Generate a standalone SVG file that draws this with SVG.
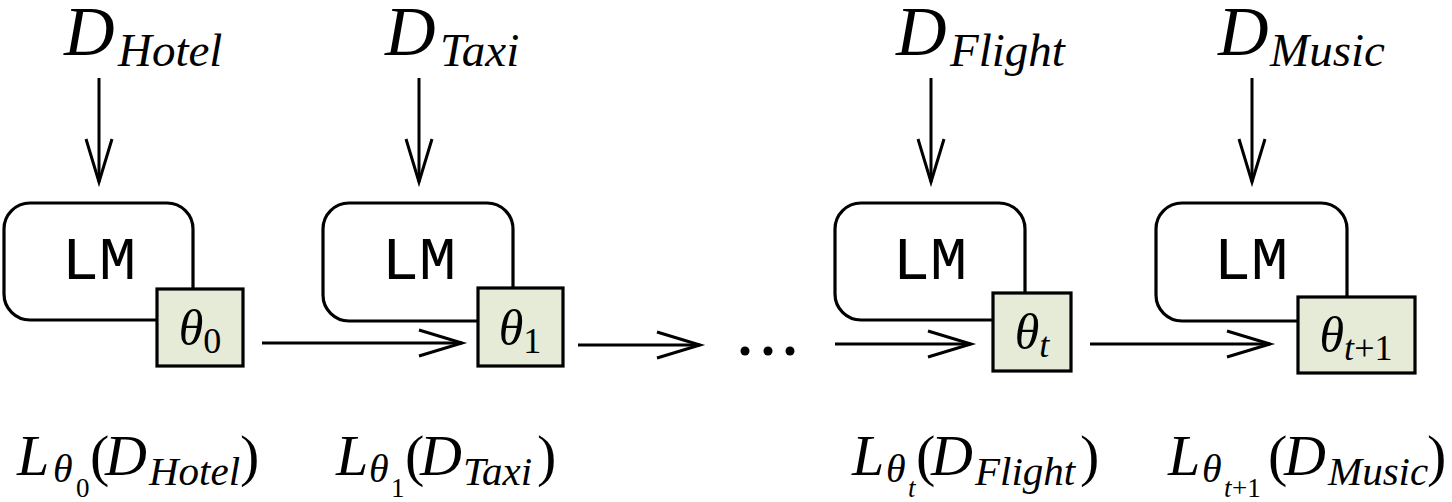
<svg xmlns="http://www.w3.org/2000/svg" width="1452" height="502" viewBox="0 0 1452 502">
<style>
.lm{fill:#fff;stroke:#000;stroke-width:3.2}
.th{fill:#e5ebd6;stroke:#000;stroke-width:3.2}
.lmt{font-family:"Liberation Mono",monospace;font-size:62px;fill:#000}
.serif{font-family:"Liberation Serif","Times New Roman",serif;fill:#000}
.it{font-style:italic}
.big{font-size:70px}
.sub{font-size:47px}
.thl{font-size:50px}
.ths{font-size:36px}
.bl{font-size:58px}
.bs{font-size:40px}
.bss{font-size:27px}
.bds{font-size:41px}
.con line{stroke:#000;stroke-width:3;marker-end:url(#arr)}
</style>
<defs>
<marker id="arr" markerUnits="userSpaceOnUse" orient="auto" refX="0" refY="0" markerWidth="1" markerHeight="1" overflow="visible">
<path d="M-43,-13 L0,0 L-43,13" fill="none" stroke="#000" stroke-width="3"/>
</marker>
</defs>
<rect width="1452" height="502" fill="#fff"/>

<g id="label-d-hotel" class="serif it"><text x="64" y="55" class="big">D<tspan x="118" y="66" class="sub">Hotel</tspan></text></g>
<g id="label-d-taxi" class="serif it"><text x="385" y="55" class="big">D<tspan x="440" y="66" class="sub">Taxi</tspan></text></g>
<g id="label-d-flight" class="serif it"><text x="896" y="55" class="big">D<tspan x="950" y="66" class="sub">Flight</tspan></text></g>
<g id="label-d-music" class="serif it"><text x="1218" y="55" class="big">D<tspan x="1270" y="66" class="sub">Music</tspan></text></g>

<g id="node-lm0">
<rect class="lm" x="4" y="203" width="189" height="117" rx="26"/>
<text class="lmt" x="99" y="279" text-anchor="middle">LM</text>
<rect class="th" x="157" y="289" width="86" height="77"/>
<text class="serif" x="200" y="345" text-anchor="middle"><tspan class="thl it">θ</tspan><tspan class="ths" dy="8">0</tspan></text>
</g>
<g id="node-lm1">
<rect class="lm" x="323" y="203" width="190" height="118" rx="26"/>
<text class="lmt" x="419" y="279" text-anchor="middle">LM</text>
<rect class="th" x="478" y="288" width="85" height="78"/>
<text class="serif" x="520" y="345" text-anchor="middle"><tspan class="thl it">θ</tspan><tspan class="ths" dy="8">1</tspan></text>
</g>
<g id="node-dots">
<circle cx="745" cy="351" r="4.5"/><circle cx="768" cy="351" r="4.5"/><circle cx="790" cy="351" r="4.5"/>
</g>
<g id="node-lmt">
<rect class="lm" x="835" y="203" width="190" height="117" rx="26"/>
<text class="lmt" x="930" y="279" text-anchor="middle">LM</text>
<rect class="th" x="993" y="293" width="78" height="78"/>
<text class="serif" x="1032" y="349" text-anchor="middle"><tspan class="thl it">θ</tspan><tspan class="ths it" dy="8">t</tspan></text>
</g>
<g id="node-lmt1">
<rect class="lm" x="1156" y="203" width="191" height="118" rx="26"/>
<text class="lmt" x="1251" y="279" text-anchor="middle">LM</text>
<rect class="th" x="1298" y="297" width="117" height="76"/>
<text class="serif" x="1356" y="352" text-anchor="middle"><tspan class="thl it">θ</tspan><tspan class="ths it" dy="8">t</tspan><tspan class="ths">+1</tspan></text>
</g>

<g id="connectors" class="con">
<line x1="99" y1="78" x2="99" y2="182"/>
<line x1="419" y1="78" x2="419" y2="182"/>
<line x1="931" y1="78" x2="931" y2="182"/>
<line x1="1252" y1="78" x2="1252" y2="182"/>
<line x1="262" y1="343" x2="462" y2="343"/>
<line x1="578" y1="345" x2="700" y2="345"/>
<line x1="835" y1="344" x2="971" y2="344"/>
<line x1="1090" y1="344" x2="1270" y2="344"/>
</g>

<g id="loss-0" class="serif"><text y="475"><tspan x="17" class="bl it">L</tspan><tspan x="53" y="482" class="bs it">θ</tspan><tspan x="76" y="497" class="bss">0</tspan><tspan x="90" y="475" class="bl">(</tspan><tspan x="105" class="bl it">D</tspan><tspan x="149" y="485" class="bds it">Hotel</tspan><tspan x="240" y="475" class="bl">)</tspan></text></g>
<g id="loss-1" class="serif"><text y="475"><tspan x="336" class="bl it">L</tspan><tspan x="369" y="482" class="bs it">θ</tspan><tspan x="391" y="497" class="bss">1</tspan><tspan x="405" y="475" class="bl">(</tspan><tspan x="420" class="bl it">D</tspan><tspan x="463" y="485" class="bds it">Taxi</tspan><tspan x="537" y="475" class="bl">)</tspan></text></g>
<g id="loss-t" class="serif"><text y="475"><tspan x="852" class="bl it">L</tspan><tspan x="886" y="482" class="bs it">θ</tspan><tspan x="908" y="497" class="bss it">t</tspan><tspan x="916" y="475" class="bl">(</tspan><tspan x="931" class="bl it">D</tspan><tspan x="975" y="485" class="bds it">Flight</tspan><tspan x="1080" y="475" class="bl">)</tspan></text></g>
<g id="loss-t1" class="serif"><text y="475"><tspan x="1168" class="bl it">L</tspan><tspan x="1202" y="482" class="bs it">θ</tspan><tspan x="1224" y="497" class="bss it">t</tspan><tspan x="1232" y="497" class="bss">+1</tspan><tspan x="1268" y="475" class="bl">(</tspan><tspan x="1284" class="bl it">D</tspan><tspan x="1328" y="485" class="bds it">Music</tspan><tspan x="1427" y="475" class="bl">)</tspan></text></g>
</svg>
